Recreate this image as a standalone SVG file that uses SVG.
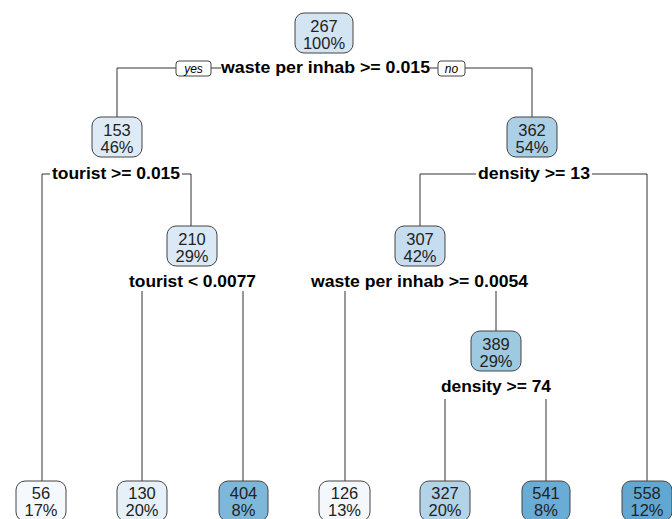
<svg xmlns="http://www.w3.org/2000/svg" width="672" height="519" viewBox="0 0 672 519">
<style>
.box{stroke:#444;stroke-width:1}
.nt{font-family:"Liberation Sans",Arial,sans-serif;font-size:16.5px;fill:#222;text-anchor:middle}
.lbl{font-family:"Liberation Sans",Arial,sans-serif;font-size:16px;font-weight:bold;fill:#000;text-anchor:middle}
.yn{font-family:"Liberation Sans",Arial,sans-serif;font-size:12px;font-style:italic;fill:#000;text-anchor:middle}
.ln{fill:none;stroke:#333;stroke-width:1}
</style>
<rect width="672" height="519" fill="#fff"/>
<g id="connectors">
<path class="ln" d="M117,117 V68 H176 M211,68 H221 M430,68 H438 M465,68 H532 V117"/>
<path class="ln" d="M42,481 V174 H50 M182,174 H191 V226"/>
<path class="ln" d="M420,226 V174 H476 M592,174 H647 V481"/>
<path class="ln" d="M142,291 V481 M243,291 V481"/>
<path class="ln" d="M345,291 V481 M496,291 V331"/>
<path class="ln" d="M445,399 V481 M546,399 V481"/>
</g>
<g id="labels">
<text class="lbl" x="325.5" y="73" textLength="209" lengthAdjust="spacingAndGlyphs">waste per inhab &gt;= 0.015</text>
<text class="lbl" x="116" y="179" textLength="128" lengthAdjust="spacingAndGlyphs">tourist &gt;= 0.015</text>
<text class="lbl" x="534" y="179" textLength="112" lengthAdjust="spacingAndGlyphs">density &gt;= 13</text>
<text class="lbl" x="192.5" y="287" textLength="127" lengthAdjust="spacingAndGlyphs">tourist &lt; 0.0077</text>
<text class="lbl" x="419.5" y="287" textLength="217" lengthAdjust="spacingAndGlyphs">waste per inhab &gt;= 0.0054</text>
<text class="lbl" x="496" y="392" textLength="110" lengthAdjust="spacingAndGlyphs">density &gt;= 74</text>
</g>
<g id="yes">
<rect class="box" x="176" y="61" width="35" height="15" rx="3" fill="#fff"/>
<text class="yn" x="193.5" y="73">yes</text>
</g>
<g id="no">
<rect class="box" x="438" y="61" width="27" height="15" rx="3" fill="#fff"/>
<text class="yn" x="451.5" y="73">no</text>
</g>
<g id="n267">
<rect class="box" x="295" y="13" width="58" height="40" rx="9" fill="#d3e4f3"/>
<text class="nt" x="324" y="32">267</text><text class="nt" x="324" y="49">100%</text>
</g>
<g id="n153">
<rect class="box" x="92" y="117" width="50" height="40" rx="9" fill="#deebf7"/>
<text class="nt" x="117" y="136">153</text><text class="nt" x="117" y="153">46%</text>
</g>
<g id="n362">
<rect class="box" x="507" y="117" width="50" height="40" rx="9" fill="#abd0e6"/>
<text class="nt" x="532" y="136">362</text><text class="nt" x="532" y="153">54%</text>
</g>
<g id="n210">
<rect class="box" x="167" y="226" width="50" height="40" rx="9" fill="#dbe9f6"/>
<text class="nt" x="192" y="245">210</text><text class="nt" x="192" y="262">29%</text>
</g>
<g id="n307">
<rect class="box" x="395" y="226" width="50" height="40" rx="9" fill="#c6dcef"/>
<text class="nt" x="420" y="245">307</text><text class="nt" x="420" y="262">42%</text>
</g>
<g id="n389">
<rect class="box" x="471" y="331" width="50" height="40" rx="9" fill="#9dcae1"/>
<text class="nt" x="496" y="350">389</text><text class="nt" x="496" y="367">29%</text>
</g>
<g id="n56">
<rect class="box" x="16" y="481" width="50" height="40" rx="9" fill="#f5f9fe"/>
<text class="nt" x="41" y="499">56</text><text class="nt" x="41" y="516">17%</text>
</g>
<g id="n130">
<rect class="box" x="117" y="481" width="50" height="40" rx="9" fill="#e6f0f9"/>
<text class="nt" x="142" y="499">130</text><text class="nt" x="142" y="516">20%</text>
</g>
<g id="n404">
<rect class="box" x="219" y="481" width="49" height="40" rx="9" fill="#7db8da"/>
<text class="nt" x="243.5" y="499">404</text><text class="nt" x="243.5" y="516">8%</text>
</g>
<g id="n126">
<rect class="box" x="319" y="481" width="51" height="40" rx="9" fill="#f4f8fd"/>
<text class="nt" x="344.5" y="499">126</text><text class="nt" x="344.5" y="516">13%</text>
</g>
<g id="n327">
<rect class="box" x="420" y="481" width="50" height="40" rx="9" fill="#b2d3e8"/>
<text class="nt" x="445" y="499">327</text><text class="nt" x="445" y="516">20%</text>
</g>
<g id="n541">
<rect class="box" x="522" y="481" width="48" height="40" rx="9" fill="#69acd5"/>
<text class="nt" x="546" y="499">541</text><text class="nt" x="546" y="516">8%</text>
</g>
<g id="n558">
<rect class="box" x="622" y="481" width="50" height="40" rx="9" fill="#62a7d2"/>
<text class="nt" x="647" y="499">558</text><text class="nt" x="647" y="516">12%</text>
</g>
</svg>
